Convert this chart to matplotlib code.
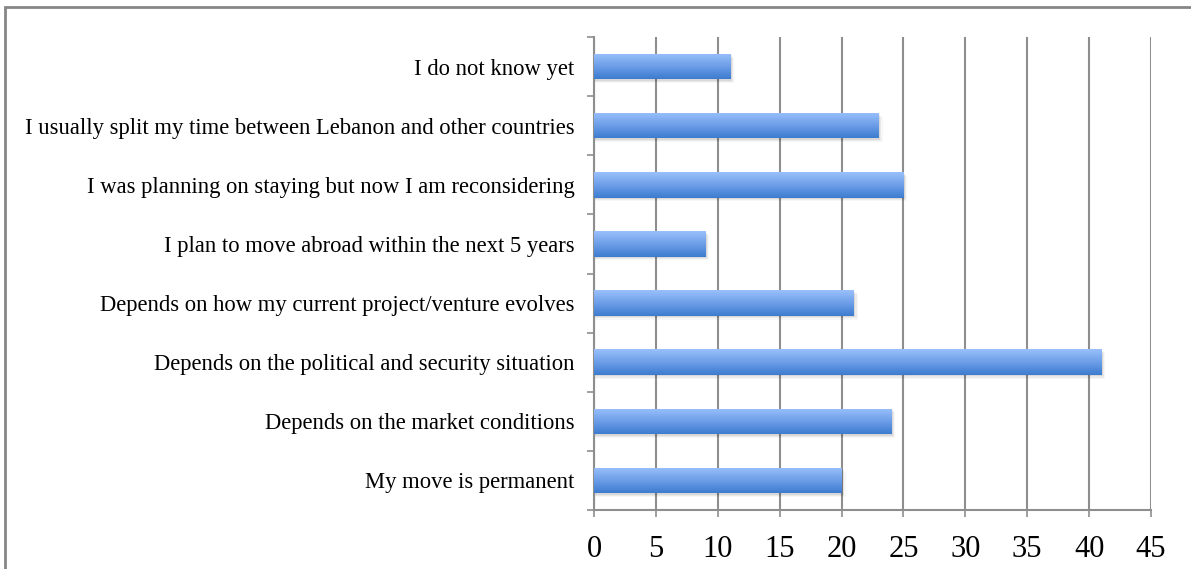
import numpy as np
import matplotlib
matplotlib.use('Agg')
import matplotlib.pyplot as plt
from matplotlib.patches import Rectangle
from matplotlib.colors import LinearSegmentedColormap

answers = [
    'My move is permanent',
    'Depends on the market conditions',
    'Depends on the political and security situation',
    'Depends on how my current project/venture evolves',
    'I plan to move abroad within the next 5 years',
    'I was planning on staying but now I am reconsidering',
    'I usually split my time between Lebanon and other countries',
    'I do not know yet',
]
counts = [20, 24, 41, 21, 9, 25, 23, 11]
xticks = [0, 5, 10, 15, 20, 25, 30, 35, 40, 45]

plt.rcParams['font.family'] = ['Liberation Serif', 'DejaVu Serif']

fig = plt.figure(figsize=(11.91, 5.69), dpi=100)
ax = fig.add_axes([594 / 1191, 1 - 510 / 569, 557 / 1191, 473 / 569])

grey = '#8e8e8e'
bar_h = 0.43
blues = LinearSegmentedColormap.from_list('bar', ['#3d7ccf', '#6d9ee8', '#9ac0fb'])
grad = np.linspace(0, 1, 64).reshape(-1, 1)

y = np.arange(len(answers))
for yi, v in zip(y, counts):
    # soft drop shadow under each bar
    for k, a in enumerate([0.08, 0.05, 0.03]):
        off = 0.025 + 0.02 * k
        ax.add_patch(Rectangle((0, yi - bar_h / 2 - off), v + 0.12 + 0.1 * k, bar_h,
                               facecolor='black', alpha=a, edgecolor='none', zorder=2))
    bar = Rectangle((0, yi - bar_h / 2), v, bar_h, facecolor='none', edgecolor='none', zorder=3)
    ax.add_patch(bar)
    im = ax.imshow(grad, cmap=blues, aspect='auto', origin='lower',
                   extent=(0, v, yi - bar_h / 2, yi + bar_h / 2), zorder=3)
    im.set_clip_path(bar)

ax.set_xlim(0, 45)
ax.set_ylim(-0.5, len(answers) - 0.5)
ax.set_xticks(xticks)
ax.set_xticklabels([str(t) for t in xticks], fontsize=22)
ax.set_yticks(y)
ax.set_yticklabels(answers, fontsize=16.3)
ax.set_yticks(np.arange(len(answers) + 1) - 0.5, minor=True)
ax.tick_params(axis='y', which='major', length=0, pad=14)
ax.tick_params(axis='y', which='minor', length=5, width=1.2, color=grey, direction='out')
ax.tick_params(axis='x', length=5, width=1.2, color=grey, pad=13)

ax.grid(axis='x', color=grey, linewidth=1.5, zorder=1)
ax.set_axisbelow(True)
for side in ['top', 'right']:
    ax.spines[side].set_visible(False)
for side in ['left', 'bottom']:
    ax.spines[side].set_color(grey)
    ax.spines[side].set_linewidth(1.5)

# frame around the chart area
fig.patches.append(Rectangle((5 / 1191, -0.05), 1.1, 1 - 7 / 569 + 0.05,
                             transform=fig.transFigure, fill=False,
                             edgecolor='#868686', linewidth=2))

fig.savefig('out.png', dpi=100)
